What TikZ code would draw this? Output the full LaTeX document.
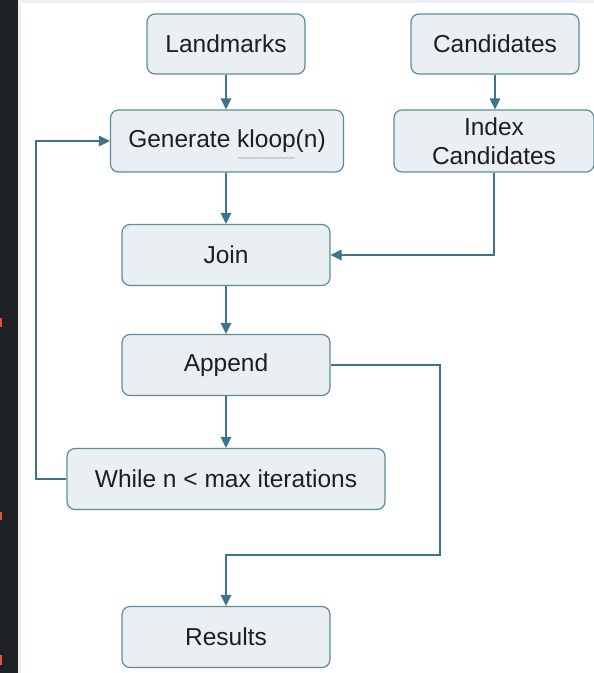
\documentclass[tikz,border=0pt]{standalone}
\usepackage{fontspec}
\setmainfont{Liberation Sans}
\usetikzlibrary{arrows.meta,decorations.pathmorphing}
\definecolor{boxfill}{HTML}{E9EFF3}
\definecolor{boxline}{HTML}{5E8C9C}
\definecolor{flow}{HTML}{3F7388}
\definecolor{sidebar}{HTML}{1E2227}
\definecolor{frame}{HTML}{EEEFF0}
\definecolor{marker}{HTML}{E0553A}
\definecolor{squiggle}{HTML}{A9B7C6}
\begin{document}
\begin{tikzpicture}[x=1pt,y=-1pt,
  stepbox/.style={draw=boxline, fill=boxfill, line width=1.2pt, rounded corners=8pt,
    minimum width=#1, minimum height=61pt, inner sep=0pt, align=center,
    font=\fontsize{24.5}{29}\selectfont, text=black!88},
  flowline/.style={draw=flow, line width=1.3pt},
  flowarrow/.style={flowline, -{Triangle[length=11pt,width=10.5pt]}}]
\useasboundingbox (0,0) rectangle (594,673);
\clip (0,0) rectangle (594,673);
% window frame and dark side bar
\fill[frame] (0,0) rectangle (594,673);
\fill[white] (21,3) rectangle (594,673);
\fill[sidebar] (0,0) rectangle (18,673);
\fill[marker] (0,318) rectangle (2,327);
\fill[marker] (0,512) rectangle (2,520);
\fill[marker] (0,655) rectangle (2,665);

% steps
\node[stepbox=158pt, minimum height=60pt] (lm) at (226,44) {Landmarks};
\node[stepbox=168pt, minimum height=60pt] (cand) at (495,44) {Candidates};
\node[stepbox=233pt, minimum height=62pt] (gen) at (227,141) {Generate kloop(n)};
\node[stepbox=200pt, minimum height=62pt] (idx) at (494,141) {Index\\Candidates};
\node[stepbox=208pt] (join) at (226,255) {Join};
\node[stepbox=208pt] (app) at (226,365) {Append};
\node[stepbox=318pt] (while) at (226,479) {While n < max iterations};
\node[stepbox=208pt] (res) at (226,637) {Results};

% spell-check squiggle under "kloop"
\draw[squiggle, line width=0.6pt, decorate,
  decoration={snake, amplitude=0.8pt, segment length=3pt}] (238,158) -- (295,158);

% connectors
\coordinate (loopleft) at (36,479);
\coordinate (outturn) at (440,555);
\draw[flowarrow] (lm.south) -- (lm.south |- gen.north);
\draw[flowarrow] (cand.south) -- (cand.south |- idx.north);
\draw[flowarrow] (gen.south -| join.north) -- (join.north);
\draw[flowarrow] (idx.south) |- (join.east);
\draw[flowarrow] (join) -- (app);
\draw[flowarrow] (app) -- (while);
\draw[flowarrow] (while.west) -- (loopleft) |- (gen.west);
\draw[flowarrow] (app.east) -| (outturn) -| (res.north);
\end{tikzpicture}
\end{document}
